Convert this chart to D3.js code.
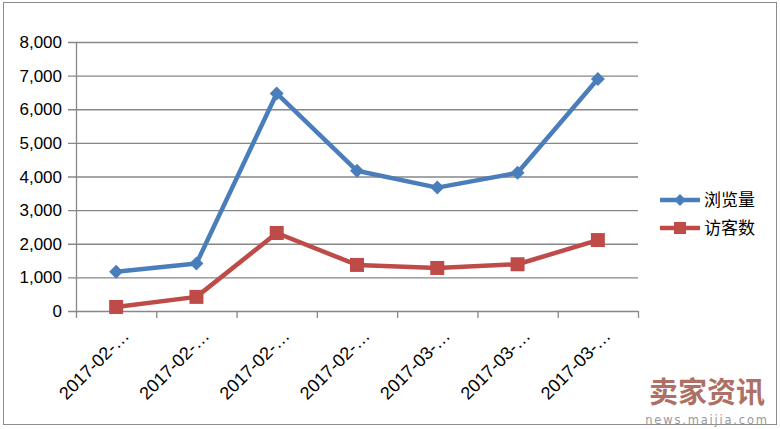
<!DOCTYPE html>
<html><head><meta charset="utf-8">
<script src="https://cdn.jsdelivr.net/npm/d3@7/dist/d3.min.js"></script>
<style>body{margin:0;background:#fff}svg{display:block}</style>
</head><body>
<svg id="c" width="780" height="429"></svg>
<script>
const categories = ["2017-02-…","2017-02-…","2017-02-…","2017-02-…","2017-03-…","2017-03-…","2017-03-…"];
const pageViews = [1170, 1410, 6470, 4170, 3670, 4110, 6900];
const visitors = [120, 420, 2320, 1370, 1280, 1390, 2110];
const seriesNames = ["浏览量", "访客数"];
const seriesColors = ["#4a7ebb", "#be4b48"];
const yTicks = [0,1000,2000,3000,4000,5000,6000,7000,8000];

(function(){
const svg = d3.select("#c");
const font = "'Liberation Sans', Arial, sans-serif";
svg.append("rect").attr("x",3.5).attr("y",2.5).attr("width",773).attr("height",422)
  .attr("fill","#fff").attr("stroke","#8c8c8c").attr("stroke-width",1);

const pL = 76, pR = 638, pT = 42, pB = 311;
const x = d3.scaleBand().domain(d3.range(categories.length)).range([pL, pR]);
const y = d3.scaleLinear().domain([0, 8000]).range([pB, pT]);

svg.append("g").selectAll("line").data(yTicks).join("line")
  .attr("x1", pL-8).attr("x2", pR).attr("y1", d=>y(d)+0.5).attr("y2", d=>y(d)+0.5)
  .attr("stroke","#878787").attr("stroke-width",1.3);
svg.append("line").attr("x1",pL+0.5).attr("x2",pL+0.5).attr("y1",pT).attr("y2",pB)
  .attr("stroke","#878787").attr("stroke-width",1.3);
const xt = d3.range(categories.length+1).map(i => pL + i*x.bandwidth());
svg.append("g").selectAll("line").data(xt).join("line")
  .attr("x1",d=>d+0.5).attr("x2",d=>d+0.5).attr("y1",pB).attr("y2",pB+7)
  .attr("stroke","#878787").attr("stroke-width",1.3);

svg.append("g").selectAll("text").data(yTicks).join("text")
  .attr("x", 62).attr("y", d=>y(d)).attr("dy","0.36em").attr("text-anchor","end")
  .attr("font-family",font).attr("font-size",17).attr("fill","#000")
  .text(d=>d3.format(",")(d));

svg.append("g").selectAll("text").data(categories).join("text")
  .attr("transform",(d,i)=>`translate(${x(i)+x.bandwidth()/2+14},${pB+26}) rotate(-45)`)
  .attr("text-anchor","end").attr("font-family",font).attr("font-size",18).attr("fill","#000")
  .text(d=>d);

const cx = i => x(i)+x.bandwidth()/2;
const line = d3.line().x((d,i)=>cx(i)).y(d=>y(d));
[pageViews, visitors].forEach((s,k)=>{
  svg.append("path").datum(s).attr("d",line).attr("fill","none")
    .attr("stroke",seriesColors[k]).attr("stroke-width",4.5).attr("stroke-linejoin","round");
});
svg.append("g").selectAll("path").data(pageViews).join("path")
  .attr("d",(d,i)=>`M${cx(i)},${y(d)-7}L${cx(i)+7},${y(d)}L${cx(i)},${y(d)+7}L${cx(i)-7},${y(d)}Z`)
  .attr("fill",seriesColors[0]);
svg.append("g").selectAll("rect").data(visitors).join("rect")
  .attr("x",(d,i)=>cx(i)-7).attr("y",d=>y(d)-7).attr("width",14).attr("height",14)
  .attr("fill",seriesColors[1]);

const lg = svg.append("g");
seriesNames.forEach((n,k)=>{
  const ly = 200 + k*28;
  lg.append("line").attr("x1",660).attr("x2",700).attr("y1",ly).attr("y2",ly)
    .attr("stroke",seriesColors[k]).attr("stroke-width",4.5);
  if(k===0) lg.append("path").attr("d",`M680,${ly-6}L686,${ly}L680,${ly+6}L674,${ly}Z`).attr("fill",seriesColors[k]);
  else lg.append("rect").attr("x",674).attr("y",ly-6).attr("width",12).attr("height",12).attr("fill",seriesColors[k]);
  lg.append("text").attr("x",704).attr("y",ly).attr("dy","0.36em")
    .attr("font-family","'Noto Sans CJK SC', sans-serif").attr("font-size",17).attr("fill","#000").text(n);
});

svg.append("text").attr("x",707).attr("y",403).attr("text-anchor","middle")
  .attr("font-family","'Noto Sans CJK SC', sans-serif").attr("font-weight","bold").attr("font-size",29)
  .attr("fill","#a0584a").attr("opacity",0.85).attr("letter-spacing",0).text("卖家资讯");
svg.append("text").attr("x",707).attr("y",424).attr("text-anchor","middle")
  .attr("font-family","'DejaVu Sans', sans-serif").attr("font-size",11.5)
  .attr("fill","#9a9a9a").attr("letter-spacing",1.8).text("news.maijia.com");
})();
</script>
</body></html>
